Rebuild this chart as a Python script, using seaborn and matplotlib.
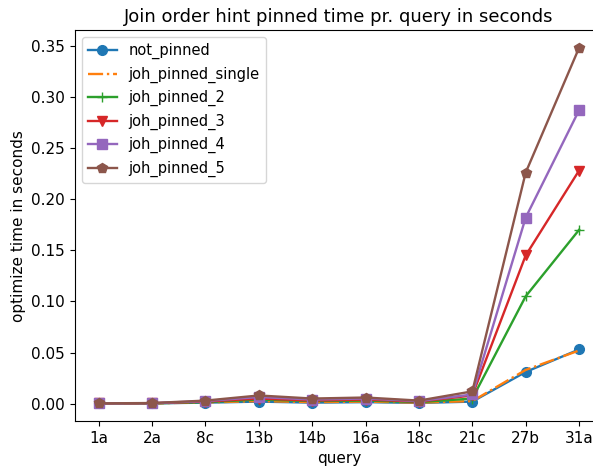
import matplotlib
matplotlib.use("Agg")
import matplotlib.pyplot as plt
import seaborn as sns
import pandas as pd

queries = ["1a", "2a", "8c", "13b", "14b", "16a", "18c", "21c", "27b", "31a"]
not_pinned = [0.0003, 0.0003, 0.001, 0.002, 0.001, 0.0015, 0.0007, 0.002, 0.031, 0.053]
joh_pinned_single = [0.0003, 0.0003, 0.0012, 0.0025, 0.0015, 0.002, 0.001, 0.0025, 0.033, 0.052]
joh_pinned_2 = [0.0003, 0.0003, 0.0015, 0.004, 0.0025, 0.003, 0.0015, 0.005, 0.105, 0.170]
joh_pinned_3 = [0.0003, 0.0004, 0.002, 0.005, 0.003, 0.004, 0.002, 0.008, 0.145, 0.228]
joh_pinned_4 = [0.0003, 0.0005, 0.0025, 0.0065, 0.004, 0.005, 0.0025, 0.009, 0.182, 0.287]
joh_pinned_5 = [0.0003, 0.0006, 0.003, 0.008, 0.005, 0.006, 0.003, 0.012, 0.226, 0.348]

series = {
    "not_pinned": (not_pinned, "o", "-"),
    "joh_pinned_single": (joh_pinned_single, None, "-."),
    "joh_pinned_2": (joh_pinned_2, "+", "-"),
    "joh_pinned_3": (joh_pinned_3, "v", "-"),
    "joh_pinned_4": (joh_pinned_4, "s", "-"),
    "joh_pinned_5": (joh_pinned_5, "p", "-"),
}

colors = sns.color_palette("tab10")
fig, ax = plt.subplots(figsize=(5.93, 4.70), dpi=100)
for i, (name, (vals, marker, ls)) in enumerate(series.items()):
    df = pd.DataFrame({"query": queries, "time": vals})
    kw = dict(marker=marker, markersize=7, markeredgewidth=1,
              markeredgecolor=colors[i], markerfacecolor=colors[i]) if marker else {}
    sns.lineplot(data=df, x="query", y="time", ax=ax, color=colors[i],
                 linestyle=ls, label=name, linewidth=1.7, sort=False, **kw)

ax.set_title("Join order hint pinned time pr. query in seconds", fontsize=13)
ax.set_xlabel("query", fontsize=11)
ax.set_ylabel("optimize time in seconds", fontsize=11)
ax.tick_params(labelsize=11)
ax.legend(loc="upper left", fontsize=10.5)
fig.subplots_adjust(left=0.126, right=1.017, bottom=0.104, top=0.936)
fig.savefig("out.png", dpi=100)
